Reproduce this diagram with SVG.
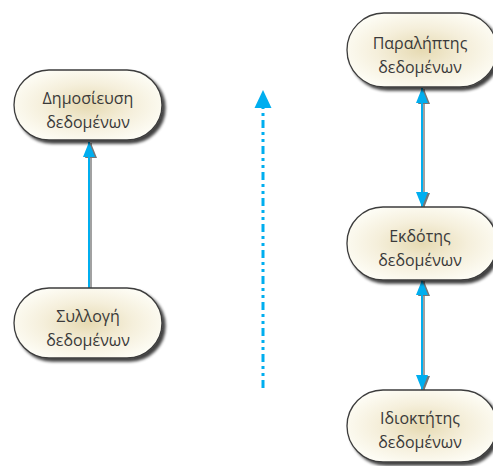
<svg xmlns="http://www.w3.org/2000/svg" width="493" height="466" viewBox="0 0 493 466">
  <defs>
    <radialGradient id="nodeFill" cx="50%" cy="50%" r="55%">
      <stop offset="0" stop-color="#e6dab2"/>
      <stop offset="0.55" stop-color="#f5efdb"/>
      <stop offset="1" stop-color="#fdfcf4"/>
    </radialGradient>
    <filter id="nodeShadow" x="-20%" y="-20%" width="140%" height="150%">
      <feGaussianBlur in="SourceAlpha" stdDeviation="1.6"/>
      <feOffset dx="3" dy="3" result="b"/>
      <feComponentTransfer><feFuncA type="linear" slope="0.75"/></feComponentTransfer>
      <feMerge><feMergeNode/><feMergeNode in="SourceGraphic"/></feMerge>
    </filter>
    <marker id="arrowEnd" viewBox="0 0 15 12" refX="15" refY="6" markerWidth="15" markerHeight="12" markerUnits="userSpaceOnUse" orient="auto">
      <path d="M0,0 L15,6 L0,12 Z" fill="#00aeef"/>
    </marker>
    <marker id="arrowStart" viewBox="0 0 15 12" refX="0" refY="6" markerWidth="15" markerHeight="12" markerUnits="userSpaceOnUse" orient="auto">
      <path d="M15,0 L0,6 L15,12 Z" fill="#00aeef"/>
    </marker>
    <marker id="shadowEnd" viewBox="0 0 15 12" refX="15" refY="6" markerWidth="15" markerHeight="12" markerUnits="userSpaceOnUse" orient="auto">
      <path d="M0,0 L15,6 L0,12 Z" fill="#555"/>
    </marker>
    <marker id="shadowStart" viewBox="0 0 15 12" refX="0" refY="6" markerWidth="15" markerHeight="12" markerUnits="userSpaceOnUse" orient="auto">
      <path d="M15,0 L0,6 L15,12 Z" fill="#555"/>
    </marker>
  </defs>
  <style>
    .node rect { fill: url(#nodeFill); stroke: #3c3c3c; stroke-width: 1.3; filter: url(#nodeShadow); }
    .node text { font-family: "Open Sans", "Noto Sans", "DejaVu Sans", sans-serif; font-size: 16px; fill: #3a3a3a; text-anchor: middle; }
    .link { stroke: #00aeef; stroke-width: 2; fill: none; }
    .link-shadow { stroke: #8a8a8a; stroke-width: 2; fill: none; opacity: 0.8; }
    .timeline { stroke: #00aeef; stroke-width: 3; fill: none; stroke-dasharray: 8 4 3 4 3 4; }
  </style>

  <g id="connectors">
    <!-- soft grey shadows under the solid links -->
    <line class="link-shadow" x1="91" y1="289" x2="91" y2="143" marker-end="url(#shadowEnd)"/>
    <line class="link-shadow" x1="424" y1="89" x2="424" y2="208" marker-start="url(#shadowStart)" marker-end="url(#shadowEnd)"/>
    <line class="link-shadow" x1="424" y1="281" x2="424" y2="391" marker-start="url(#shadowStart)" marker-end="url(#shadowEnd)"/>
    <line class="link" x1="89" y1="288" x2="89" y2="142" marker-end="url(#arrowEnd)"/>
    <line class="link" x1="422" y1="88" x2="422" y2="207" marker-start="url(#arrowStart)" marker-end="url(#arrowEnd)"/>
    <line class="link" x1="422" y1="280" x2="422" y2="390" marker-start="url(#arrowStart)" marker-end="url(#arrowEnd)"/>
    <line class="timeline" x1="263" y1="388" x2="263" y2="106"/>
    <path d="M263,90 L271.5,108 L254.5,108 Z" fill="#00aeef"/>
  </g>

  <g id="node-publish" class="node">
    <rect x="14" y="70" width="148" height="70" rx="35"/>
    <text x="88" y="104">Δημοσίευση</text>
    <text x="88" y="128">δεδομένων</text>
  </g>
  <g id="node-collect" class="node">
    <rect x="14" y="288" width="148" height="70" rx="35"/>
    <text x="88" y="322">Συλλογή</text>
    <text x="88" y="346">δεδομένων</text>
  </g>
  <g id="node-receiver" class="node">
    <rect x="347" y="13" width="150" height="74" rx="37"/>
    <text x="420" y="49">Παραλήπτης</text>
    <text x="420" y="73">δεδομένων</text>
  </g>
  <g id="node-issuer" class="node">
    <rect x="347" y="207" width="150" height="73" rx="36"/>
    <text x="420" y="242">Εκδότης</text>
    <text x="420" y="266">δεδομένων</text>
  </g>
  <g id="node-owner" class="node">
    <rect x="347" y="390" width="150" height="72" rx="36"/>
    <text x="420" y="424">Ιδιοκτήτης</text>
    <text x="420" y="448">δεδομένων</text>
  </g>
</svg>
